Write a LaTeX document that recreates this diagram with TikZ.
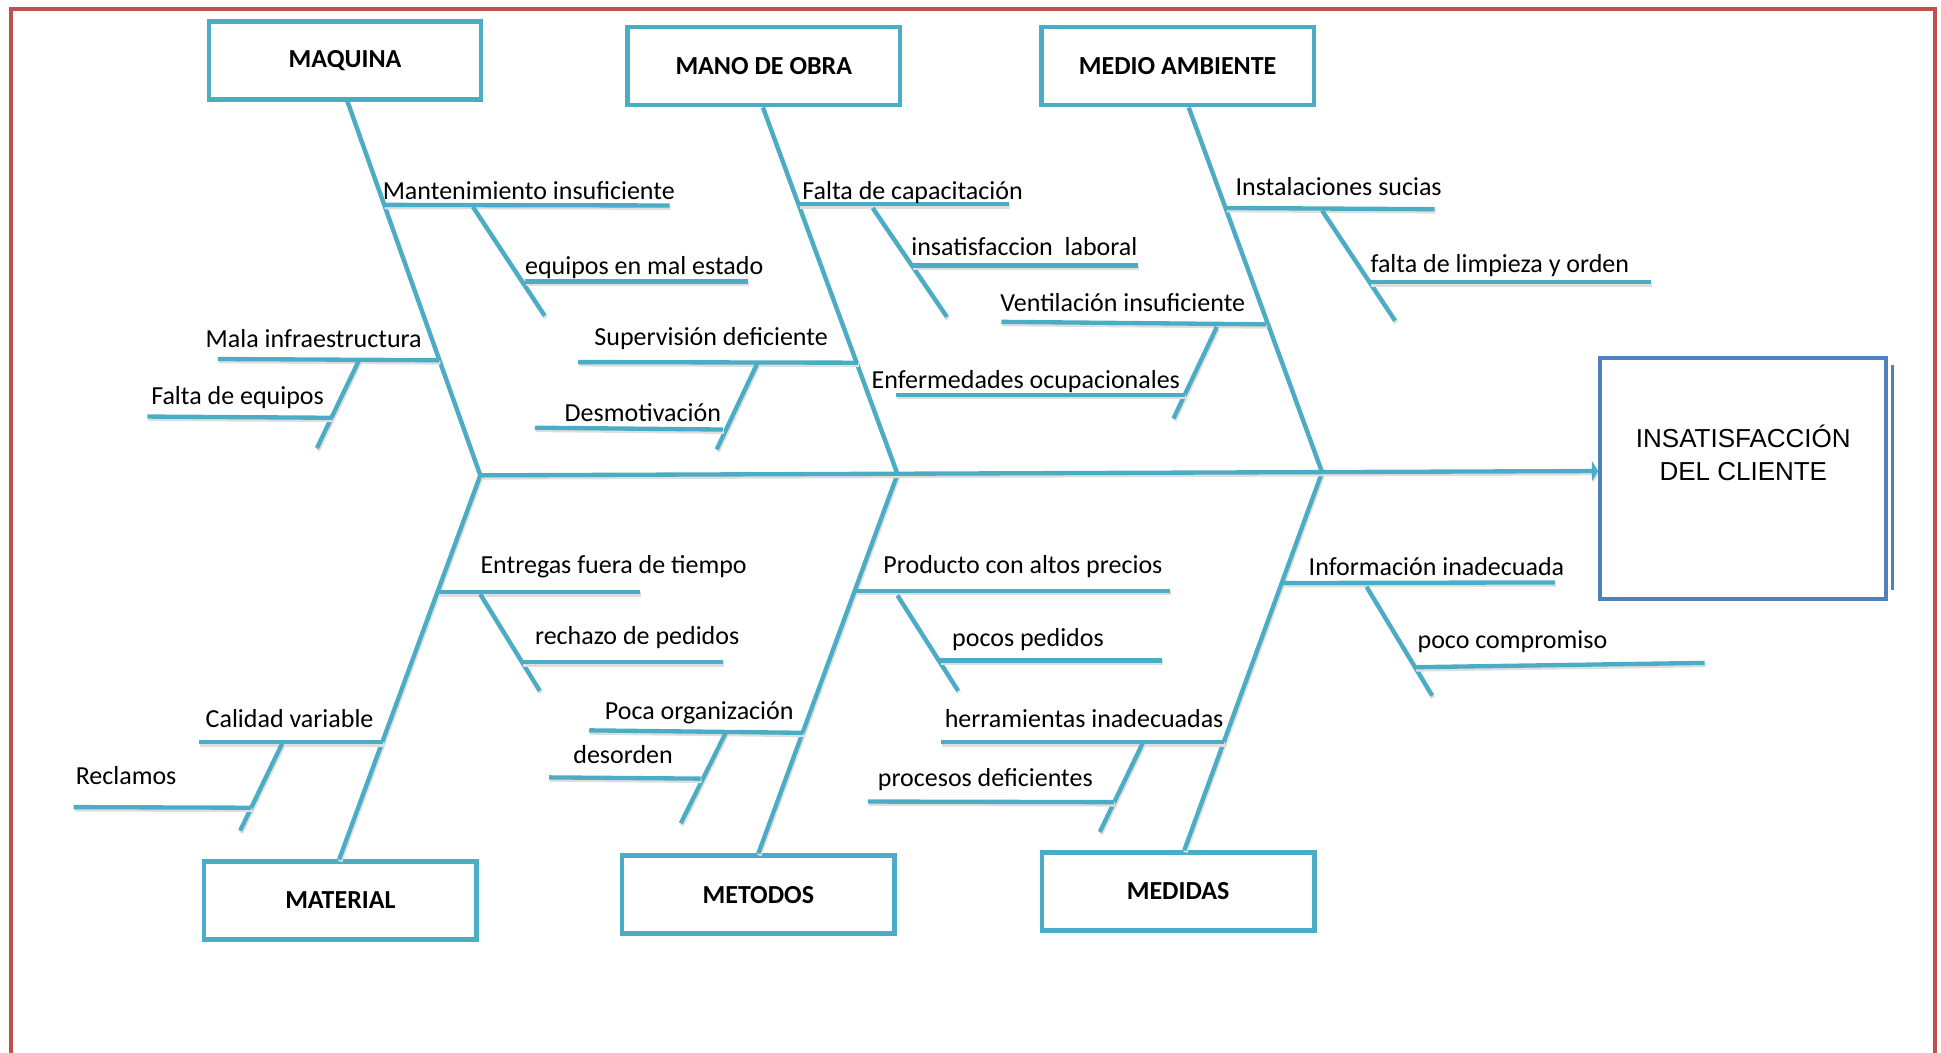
\documentclass[tikz,border=0pt]{standalone}
\usepackage{fontspec}
\setmainfont{Carlito}
\newfontfamily\arialfont{Liberation Sans}
\usetikzlibrary{arrows.meta,calc}
\definecolor{bonecol}{HTML}{4BACC6}
\definecolor{framecol}{HTML}{C0504D}
\definecolor{effectcol}{HTML}{4F81BD}

\begin{document}
\begin{tikzpicture}[x=1pt,y=-1pt,
  bone/.style={draw=bonecol, line width=3.5pt,
    preaction={draw=black!13, line width=3.5pt, transform canvas={xshift=0.8pt,yshift=-1.8pt}}},
  catbox/.style={draw=bonecol, line width=3.6pt, fill=white, minimum width=220pt,
    minimum height=63pt, inner sep=0pt, font=\fontsize{21}{25}\selectfont\bfseries},
  cause/.style={anchor=base west, inner sep=0pt, font=\fontsize{21}{25}\selectfont},
]
\useasboundingbox (0,0) rectangle (1568,850);

% outer frame (open at the bottom)
\draw[framecol, line width=3.5pt] (9,852) -- (9,7.5) -- (1563,7.5) -- (1563,852);

% category boxes
\node[catbox] (maq)   at (278.7,48.7) {MAQUINA};
\node[catbox] (mano)  at (617,53.5)   {MANO DE OBRA};
\node[catbox] (medio) at (951.3,53.5) {MEDIO AMBIENTE};
\node[catbox] (mat)   at (275,727.5)  {MATERIAL};
\node[catbox] (met)   at (612.6,722.7){METODOS};
\node[catbox] (med)   at (951.7,720.1){MEDIDAS};

% spine junctions
\coordinate (j1) at (388,384);
\coordinate (j2) at (725,383);
\coordinate (j3) at (1068,381.5);
\coordinate (head) at (1291,380.5);

% main bones
\draw[bone] ($(maq.south)+(2,0)$) -- (j1);
\draw[bone] ($(mano.south)+(-0.7,0)$) -- (j2);
\draw[bone] ($(medio.south)+(9,0)$) -- (j3);
\draw[bone] (j1) -- ($(mat.north)+(-1,0)$);
\draw[bone] (j2) -- (met.north);
\draw[bone] (j3) -- ($(med.north)+(5,0)$);
\draw[bone, -{Triangle[length=5pt,width=16pt]}] (j1) -- (head);

% effect box
\node[draw=effectcol, line width=3.2pt, fill=white, minimum width=230.7pt,
      minimum height=194.9pt, inner sep=0pt] (res) at (1407.9,386.7) {};
\draw[effectcol, line width=2.4pt] ($(res.north east)+(4.2,7)$) -- ($(res.south east)+(4.2,-9)$);
\node[font=\arialfont\fontsize{21}{26.5}\selectfont, align=center] (restxt)
      at (1408.3,366) {INSATISFACCIÓN\\DEL CLIENTE};

% MAQUINA causes
\coordinate (a1) at (310,165.5);  \coordinate (a1e) at (541,166);
\coordinate (a1d) at (382,167);   \coordinate (a1f) at (440,255);
\coordinate (a2) at (424,227.5);  \coordinate (a2e) at (604,227.5);
\coordinate (a3) at (176,290);    \coordinate (a3e) at (355,291);
\coordinate (a3d) at (290,291);   \coordinate (a3f) at (256,362);
\coordinate (a4) at (119,336.5);  \coordinate (a4e) at (269,337.5);
\draw[bone] (a1) -- (a1e);
\draw[bone] (a1d) -- (a1f);
\draw[bone] (a2) -- (a2e);
\draw[bone] (a3) -- (a3e);
\draw[bone] (a3d) -- (a3f);
\draw[bone] (a4) -- (a4e);
\node[cause] (ta1) at (309,161) {Mantenimiento insuficiente};
\node[cause] (ta2) at (424,222) {equipos en mal estado};
\node[cause] (ta3) at (166,281) {Mala infraestructura};
\node[cause] (ta4) at (122,327) {Falta de equipos};

% MANO DE OBRA causes
\coordinate (b1) at (645.5,165);  \coordinate (b1e) at (815,165);
\coordinate (b1d) at (705,168);   \coordinate (b1f) at (765,256);
\coordinate (b2) at (737,214.5);  \coordinate (b2e) at (919,214.5);
\coordinate (b3) at (467,292.5);  \coordinate (b3e) at (693,293);
\coordinate (b3d) at (612,293);   \coordinate (b3f) at (579,363);
\coordinate (b4) at (432,345.5);  \coordinate (b4e) at (584,347);
\draw[bone] (b1) -- (b1e);
\draw[bone] (b1d) -- (b1f);
\draw[bone] (b2) -- (b2e);
\draw[bone] (b3) -- (b3e);
\draw[bone] (b3d) -- (b3f);
\draw[bone] (b4) -- (b4e);
\node[cause] (tb1) at (648,161) {Falta de capacitación};
\node[cause] (tb2) at (736,206) {insatisfaccion~~laboral};
\node[cause] (tb3) at (480,279.5) {Supervisión deficiente};
\node[cause] (tb4) at (456,340.5) {Desmotivación};

% MEDIO AMBIENTE causes
\coordinate (c1) at (990,168);    \coordinate (c1e) at (1159,169);
\coordinate (c1d) at (1068,170);  \coordinate (c1f) at (1127,259);
\coordinate (c2) at (1107,228);   \coordinate (c2e) at (1334,228);
\coordinate (c3) at (809,260);    \coordinate (c3e) at (1023,262);
\coordinate (c3d) at (983,264);   \coordinate (c3f) at (948,338);
\coordinate (c4) at (724,319);    \coordinate (c4e) at (957,319);
\draw[bone] (c1) -- (c1e);
\draw[bone] (c1d) -- (c1f);
\draw[bone] (c2) -- (c2e);
\draw[bone] (c3) -- (c3e);
\draw[bone] (c3d) -- (c3f);
\draw[bone] (c4) -- (c4e);
\node[cause] (tc1) at (998,158)   {Instalaciones sucias};
\node[cause] (tc2) at (1107,220)  {falta de limpieza y orden};
\node[cause] (tc3) at (808,252)   {Ventilación insuficiente};
\node[cause] (tc4) at (704,314)   {Enfermedades ocupacionales};

% MATERIAL causes
\coordinate (d1) at (354.5,478.5); \coordinate (d1e) at (517,478.5);
\coordinate (d1d) at (388,480);    \coordinate (d1f) at (436,558);
\coordinate (d2) at (422,535);     \coordinate (d2e) at (584,535);
\coordinate (d3) at (161,599.5);   \coordinate (d3e) at (309,599.5);
\coordinate (d3d) at (228,600.5);  \coordinate (d3f) at (194,671);
\coordinate (d4) at (59.5,652);    \coordinate (d4e) at (203,652.5);
\draw[bone] (d1) -- (d1e);
\draw[bone] (d1d) -- (d1f);
\draw[bone] (d2) -- (d2e);
\draw[bone] (d3) -- (d3e);
\draw[bone] (d3d) -- (d3f);
\draw[bone] (d4) -- (d4e);
\node[cause] (td1) at (388,463)   {Entregas fuera de tiempo};
\node[cause] (td2) at (432,520.5) {rechazo de pedidos};
\node[cause] (td3) at (166,588)   {Calidad variable};
\node[cause] (td4) at (61,634)    {Reclamos};

% METODOS causes
\coordinate (e1) at (691,477.5);   \coordinate (e1e) at (945,477.5);
\coordinate (e1d) at (725,481);    \coordinate (e1f) at (774,558);
\coordinate (e2) at (759,533.5);   \coordinate (e2e) at (939,533.5);
\coordinate (e3) at (476,590);     \coordinate (e3e) at (649,592);
\coordinate (e3d) at (586,592.5);  \coordinate (e3f) at (550,665);
\coordinate (e4) at (443.5,628);   \coordinate (e4e) at (566,629);
\draw[bone] (e1) -- (e1e);
\draw[bone] (e1d) -- (e1f);
\draw[bone] (e2) -- (e2e);
\draw[bone] (e3) -- (e3e);
\draw[bone] (e3d) -- (e3f);
\draw[bone] (e4) -- (e4e);
\node[cause] (te1) at (713.5,463) {Producto con altos precios};
\node[cause] (te2) at (769,522)   {pocos pedidos};
\node[cause] (te3) at (488.5,581.5) {Poca organización};
\node[cause] (te4) at (463,617)   {desorden};

% MEDIDAS causes
\coordinate (f1) at (1036,471);    \coordinate (f1e) at (1256,470.5);
\coordinate (f1d) at (1104,474);   \coordinate (f1f) at (1157,562);
\coordinate (f2) at (1143,539);    \coordinate (f2e) at (1377,535.5);
\coordinate (f3) at (989,599.5);   \coordinate (f3e) at (760,599.5);
\coordinate (f3d) at (923,600.5);  \coordinate (f3f) at (888.5,672);
\coordinate (f4) at (701,647.5);   \coordinate (f4e) at (900,648);
\draw[bone] (f1) -- (f1e);
\draw[bone] (f1d) -- (f1f);
\draw[bone] (f2) -- (f2e);
\draw[bone] (f3) -- (f3e);
\draw[bone] (f3d) -- (f3f);
\draw[bone] (f4) -- (f4e);
\node[cause] (tf1) at (1057,465)   {Información inadecuada};
\node[cause] (tf2) at (1145,524)   {poco compromiso};
\node[cause] (tf3) at (763,588)    {herramientas inadecuadas};
\node[cause] (tf4) at (709,635.5)  {procesos deficientes};
\end{tikzpicture}
\end{document}
